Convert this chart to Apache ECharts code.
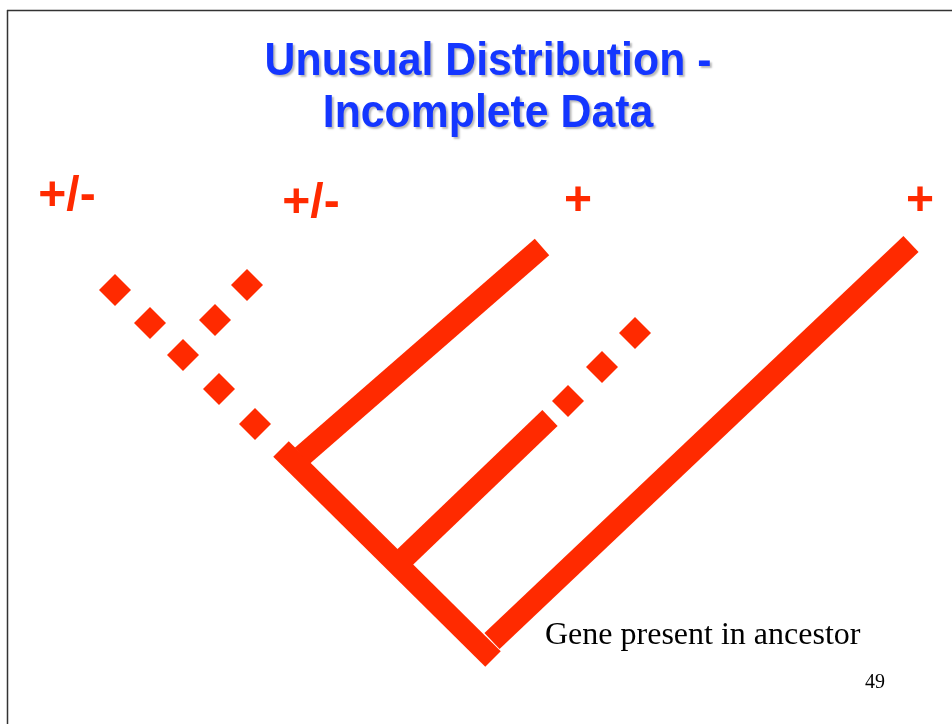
<!DOCTYPE html>
<html><head><meta charset="utf-8">
<script src="https://cdn.jsdelivr.net/npm/echarts@6/dist/echarts.min.js"></script>
<style>html,body{margin:0;padding:0;background:#fff}#c{width:952px;height:724px}</style>
</head><body><div id="c"></div>
<script>
// Tree branches (diagram coordinates)
const mainStem = [[281, 449], [493, 659]];
const topBranch = [[302, 456], [542, 247]];
const midBranch = [[402, 560], [550, 418]];
const rightBranch = [[492, 641], [911, 244]];
// Dotted (incomplete) segments
const dotsLeftMain = [[115, 290], [150, 323], [183, 355], [219, 389], [255, 424]];
const dotsLeftSide = [[215, 320], [247, 285]];
const dotsMid = [[568, 401], [602, 367], [635, 333]];
// Leaf labels
const leafLabels = ['+/-', '+/-', '+', '+'];
const leafPos = [[67, 197], [311, 204], [578, 202], [920, 202]];
const titleLines = ['Unusual Distribution -', 'Incomplete Data'];

const RED = '#ff2a00';
const BLUE = '#1436ff';
const chart = echarts.init(document.getElementById('c'));
const solid = (d) => ({
  type: 'line', data: d, symbol: 'none', silent: true,
  lineStyle: { color: RED, width: 22, cap: 'butt', join: 'miter', opacity: 1 }
});
const dots = (d) => ({
  type: 'scatter', data: d, symbol: 'diamond', symbolSize: 32, silent: true,
  itemStyle: { color: RED, opacity: 1 }
});
const titleText = (t, y) => ({
  type: 'text', x: 488, y: y, scaleX: 0.93, originX: 0, originY: 0,
  style: { text: t, fill: BLUE, textAlign: 'center', textVerticalAlign: 'middle', verticalAlign: 'middle',
    font: 'bold 46px "Liberation Sans", Arial, sans-serif',
    shadowColor: 'rgba(0,0,0,0.28)', shadowOffsetX: 2, shadowOffsetY: 2, shadowBlur: 2,
    textShadowColor: 'rgba(0,0,0,0.28)', textShadowOffsetX: 2, textShadowOffsetY: 2, textShadowBlur: 2 }
});
chart.setOption({
  animation: false,
  backgroundColor: '#fff',
  grid: { left: 0, right: 0, top: 0, bottom: 0 },
  xAxis: { type: 'value', min: 0, max: 952, show: false },
  yAxis: { type: 'value', min: 0, max: 724, inverse: true, show: false },
  series: [
    solid(mainStem), solid(topBranch), solid(midBranch), solid(rightBranch),
    dots(dotsLeftMain), dots(dotsLeftSide), dots(dotsMid),
    {
      type: 'scatter', symbolSize: 0, silent: true, itemStyle: { opacity: 1 },
      data: leafPos.map((p, i) => ({ value: p, label: { formatter: leafLabels[i] } })),
      label: { show: true, position: 'inside', color: RED, opacity: 1, fontFamily: 'Liberation Sans, Arial, sans-serif',
        fontWeight: 'bold', fontSize: 48 }
    }
  ],
  graphic: [
    { type: 'line', shape: { x1: 7, y1: 10.5, x2: 952, y2: 10.5 }, style: { stroke: '#333', lineWidth: 1.5 } },
    { type: 'line', shape: { x1: 7.5, y1: 10, x2: 7.5, y2: 724 }, style: { stroke: '#333', lineWidth: 1.5 } },
    titleText(titleLines[0], 62),
    titleText(titleLines[1], 114),
    { type: 'text', left: 545, top: 620, style: { text: 'Gene present in ancestor', fill: '#000',
      font: '32px "Liberation Serif", "Times New Roman", serif' } },
    { type: 'text', left: 865, top: 673, style: { text: '49', fill: '#000',
      font: '20px "Liberation Serif", "Times New Roman", serif' } }
  ]
});
</script></body></html>
